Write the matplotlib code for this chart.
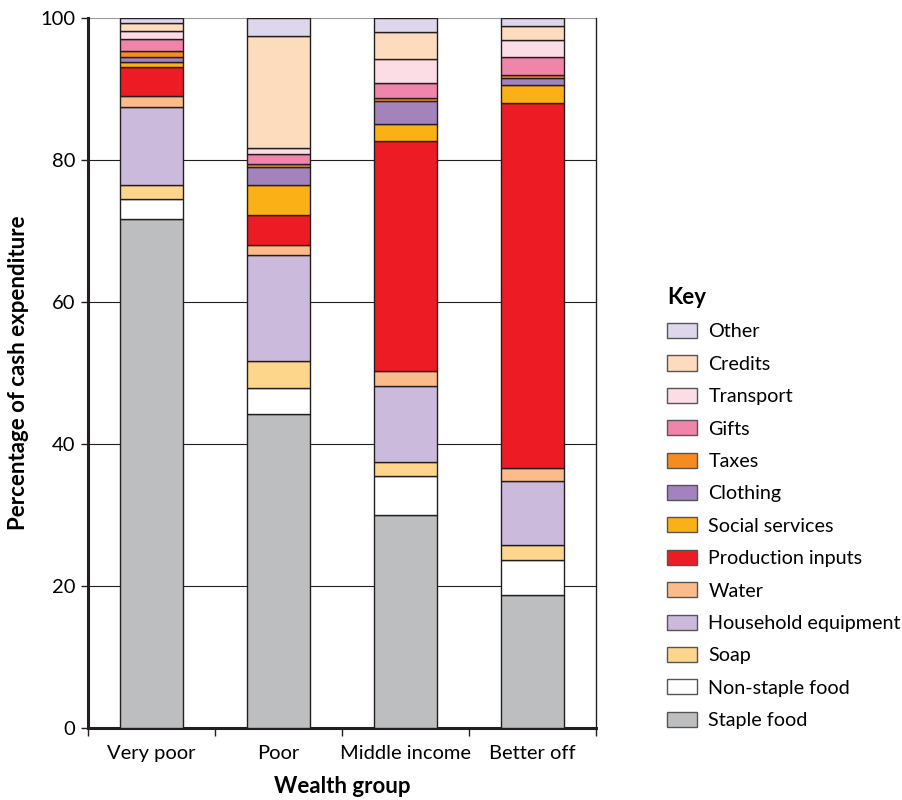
import matplotlib
matplotlib.use("Agg")
import matplotlib.pyplot as plt
import numpy as np
from matplotlib.patches import Patch

plt.rcParams['font.family'] = ['Lato', 'DejaVu Sans']

groups = ["Very poor", "Poor", "Middle income", "Better off"]

# stacked bottom -> top
categories = ["Staple food", "Non-staple food", "Soap", "Household equipment", "Water",
              "Production inputs", "Social services", "Clothing", "Taxes", "Gifts",
              "Transport", "Credits", "Other"]

staple_food = [71.7, 44.2, 30.0, 18.7]
non_staple_food = [2.8, 3.7, 5.5, 5.0]
soap = [2.0, 3.8, 2.0, 2.1]
household_equipment = [10.9, 14.9, 10.7, 9.0]
water = [1.6, 1.4, 2.1, 1.8]
production_inputs = [4.1, 4.3, 32.4, 51.4]
social_services = [0.7, 4.2, 2.4, 2.5]
clothing = [0.7, 2.5, 3.2, 1.0]
taxes = [0.8, 0.5, 0.5, 0.5]
gifts = [1.8, 1.3, 2.1, 2.5]
transport = [1.1, 0.9, 3.3, 2.4]
credits = [1.1, 15.7, 3.8, 2.0]
other = [0.7, 2.6, 2.0, 1.1]

series = [staple_food, non_staple_food, soap, household_equipment, water,
          production_inputs, social_services, clothing, taxes, gifts,
          transport, credits, other]

colors = ["#bcbec0", "#ffffff", "#fed68b", "#cbbadb", "#fbbb8a",
          "#ed1c24", "#fbb116", "#a283bc", "#f68b1f", "#ef85aa",
          "#fcdde6", "#fddcbd", "#ded6ea"]

FS = 14.5
LFS = 16

fig = plt.figure(figsize=(9.02, 8.0), dpi=100)
ax = fig.add_axes([0.0976, 0.09, 0.5632, 0.8875])

x = np.arange(len(groups))
bottom = np.zeros(len(groups))
for vals, col in zip(series, colors):
    v = np.array(vals)
    ax.bar(x, v, bottom=bottom, width=0.49, color=col, edgecolor="#231f20",
           linewidth=1.0, zorder=3)
    bottom += v

ax.set_xlim(-0.5, len(groups) - 0.5)
ax.set_ylim(0, 100)
ax.set_yticks([0, 20, 40, 60, 80, 100])
ax.set_yticklabels(["0", "20", "40", "60", "80", "100"], fontsize=FS)
ax.set_xticks(x)
ax.set_xticklabels(groups, fontsize=FS)
ax.set_xticks(np.arange(-0.5, len(groups)), minor=True)
ax.tick_params(axis='x', which='major', length=0, pad=12)
ax.tick_params(axis='x', which='minor', length=6, width=1, color="#231f20")
ax.tick_params(axis='y', length=5, width=1, color="#231f20", pad=4)

for yv in [20, 40, 60, 80]:
    ax.axhline(yv, color="#231f20", linewidth=0.8, zorder=1)
ax.axhline(100, color="#999999", linewidth=1.5, zorder=1)

ax.spines['left'].set_linewidth(2.2)
ax.spines['left'].set_color("#231f20")
ax.spines['bottom'].set_linewidth(2.2)
ax.spines['bottom'].set_color("#231f20")
ax.spines['right'].set_linewidth(1.0)
ax.spines['right'].set_color("#231f20")
ax.spines['top'].set_visible(False)

ax.set_ylabel("Percentage of cash expenditure", fontsize=LFS, fontweight='bold', labelpad=8)
ax.set_xlabel("Wealth group", fontsize=LFS, fontweight='bold', labelpad=10)

handles = [Patch(facecolor=c, edgecolor="#555555", linewidth=1.0, label=l)
           for c, l in zip(colors[::-1], categories[::-1])]
leg = fig.legend(handles=handles, loc='upper left', bbox_to_anchor=(0.7306, 0.651),
                 title="Key", frameon=False, fontsize=14.2, title_fontsize=LFS,
                 handlelength=1.55, handleheight=0.8, labelspacing=0.76,
                 handletextpad=0.55, borderaxespad=0)
leg.get_title().set_fontweight('bold')
leg._legend_box.align = "left"

fig.savefig("out.png", dpi=100)
